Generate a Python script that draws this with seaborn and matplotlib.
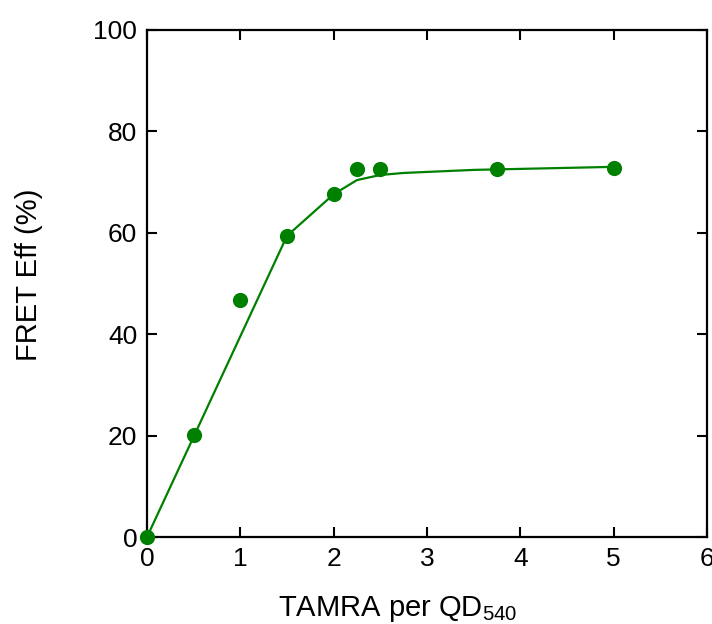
import matplotlib
matplotlib.use("Agg")
import matplotlib.pyplot as plt
import seaborn as sns
import pandas as pd

# Measured FRET efficiency vs TAMRA acceptors per QD
ratio = [0, 0.5, 1.0, 1.5, 2.0, 2.25, 2.5, 3.75, 5.0]
fret_eff = [0, 20.1, 46.7, 59.3, 67.7, 72.6, 72.6, 72.6, 72.7]

# Fitted curve
fit_ratio = [0, 0.5, 1.0, 1.5, 2.0, 2.25, 2.5, 2.75, 3.0, 3.5, 4.0, 4.5, 5.0]
fit_eff = [0, 19.8, 39.6, 59.4, 67.6, 70.4, 71.4, 71.8, 72.0, 72.4, 72.6, 72.8, 73.0]

sns.set_theme(style="ticks")
plt.rcParams["font.family"] = ["Liberation Sans", "DejaVu Sans"]
plt.rcParams["mathtext.fontset"] = "custom"
plt.rcParams["mathtext.rm"] = "Liberation Sans"

green = "#008000"
fig = plt.figure(figsize=(7.12, 6.24), dpi=100)
ax = fig.add_axes([0.2065, 0.1394, 0.7865, 0.8126])

sns.lineplot(data=pd.DataFrame({"x": fit_ratio, "y": fit_eff}), x="x", y="y",
             ax=ax, color=green, linewidth=1.6, sort=False)
sns.scatterplot(data=pd.DataFrame({"x": ratio, "y": fret_eff}), x="x", y="y",
                ax=ax, color=green, s=120, edgecolor=green, linewidth=0,
                zorder=3, clip_on=False)

ax.set_xlim(0, 6)
ax.set_ylim(0, 100)
ax.set_xticks(range(0, 7))
ax.set_yticks(range(0, 101, 20))
ax.tick_params(direction="in", length=7, width=1.5, top=True, right=True,
               labelsize=19, pad=7, colors="black", labelcolor="black")
for s in ax.spines.values():
    s.set_linewidth(1.6)
    s.set_color("black")

ax.set_xlabel(r"TAMRA per QD$\mathrm{_{540}}$", fontsize=21, color="black")
ax.set_ylabel("FRET Eff (%)", fontsize=21, color="black")
ax.xaxis.set_label_coords(0.448, -0.112)
ax.yaxis.set_label_coords(-0.186, 0.517)

fig.savefig("out.png", dpi=100)
